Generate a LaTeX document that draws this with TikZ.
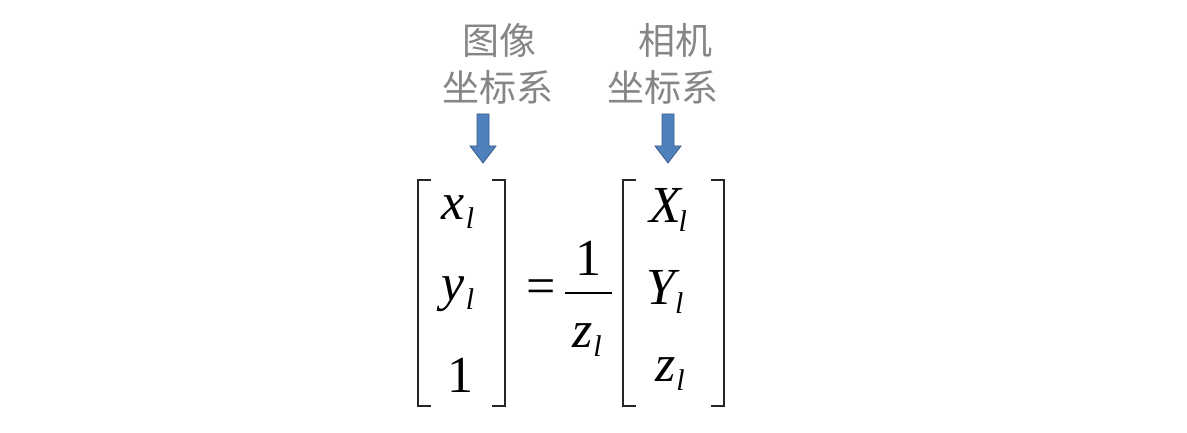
\documentclass[tikz,border=0pt]{standalone}
\usepackage{fontspec}
\setmainfont{Liberation Serif}
\newfontfamily\cjk{Noto Sans CJK SC}
\newcommand\vsub[3][1pt]{\textit{#2}\kern#1\raisebox{-9pt}{\fontsize{30}{32}\selectfont\textit{#3}}}
\begin{document}
\begin{tikzpicture}[x=1pt,y=-1pt,
  lab/.style={text=gray!95,font=\cjk\fontsize{37}{42}\selectfont,inner sep=0},
  ent/.style={font=\fontsize{52}{58}\selectfont,inner sep=0},
  brk/.style={draw=black!85,line width=1.3pt},
  barrow/.style={fill={rgb,255:red,79;green,129;blue,189},draw={rgb,255:red,56;green,93;blue,138},line width=0.8pt}]
\useasboundingbox (0,0) rectangle (1187,433);
\node[lab] (t1) at (499,40) {图像};
\node[lab] (t2) at (498,87) {坐标系};
\node[lab] (t3) at (675,40) {相机};
\node[lab] (t4) at (663,87) {坐标系};
\foreach \cx in {483,668}{
 \draw[barrow] (\cx-6,114) -- (\cx+6,114) -- (\cx+6,146) -- (\cx+13,146) -- (\cx,163) -- (\cx-13,146) -- (\cx-6,146) -- cycle;}
% brackets
\draw[brk] (431,180) -- (418,180) -- (418,406) -- (431,406);
\draw[brk] (492,180) -- (505,180) -- (505,406) -- (492,406);
\draw[brk] (636,180) -- (623,180) -- (623,406) -- (636,406);
\draw[brk] (711,180) -- (724,180) -- (724,406) -- (711,406);
\node[ent] (a1) at (458,212) {\vsub{x}{l}};
\node[ent] (a2) at (458,294) {\vsub{y}{l}};
\node[ent] (a3) at (460,375) {1};
\node[ent] (eq) at (541,292) {=};
\node[ent] (n1) at (588,258) {1};
\draw[line width=1.6pt] (565,293) -- (612,293);
\node[ent] (d1) at (587,340) {\vsub{z}{l}};
\node[ent] (b1) at (668,210) {\vsub[-4pt]{X}{l}};
\node[ent] (b2) at (665,292) {\vsub[-5pt]{Y}{l}};
\node[ent] (b3) at (670,374) {\vsub{z}{l}};
\end{tikzpicture}
\end{document}
